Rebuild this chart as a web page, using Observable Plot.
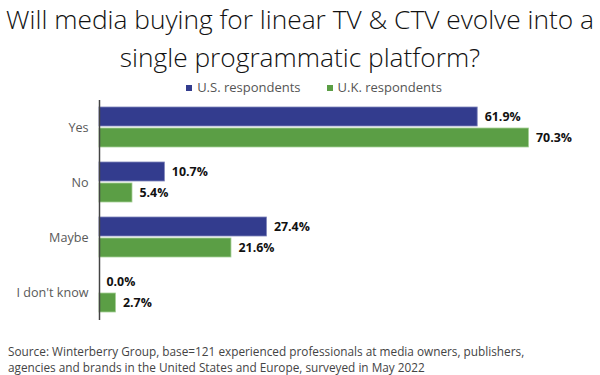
<!DOCTYPE html>
<html>
<head>
<meta charset="utf-8">
<script src="https://cdn.jsdelivr.net/npm/d3@7"></script>
<script src="https://cdn.jsdelivr.net/npm/@observablehq/plot@0.6"></script>
<style>
  body { margin: 0; background: #fff; font-family: "Open Sans", sans-serif; }
  #wrap { width: 600px; height: 375px; position: relative; overflow: hidden; }
  .title { text-align: center; font-size: 26.3px; line-height: 38px; color: #111; font-weight: 300; margin: 0; white-space: nowrap; }
  .legend { display: flex; justify-content: center; gap: 26px; font-size: 13px; line-height: 16px; color: #555; margin-top: 3px; height: 16px; padding-left: 28px; }
  .legend span.sw { display: inline-block; width: 6px; height: 6px; margin-right: 5px; vertical-align: 1px; }
  .caption { font-size: 11.8px; line-height: 16px; color: #444; margin-top: 18px; padding-left: 8px; }
  svg { display: block; }
</style>
</head>
<body>
<div id="wrap">
  <div class="title">Will media buying for linear TV &amp; CTV evolve into a<br>single programmatic platform?</div>
  <div class="legend" id="legend"></div>
  <div id="chart"></div>
  <div class="caption">Source: Winterberry Group, base=121 experienced professionals at media owners, publishers,<br>agencies and brands in the United States and Europe, surveyed in May 2022</div>
</div>
<script>
const categories = ["Yes", "No", "Maybe", "I don't know"];
const seriesNames = ["U.S. respondents", "U.K. respondents"];
const usValues = [61.9, 10.7, 27.4, 0.0];
const ukValues = [70.3, 5.4, 21.6, 2.7];
const colors = ["#333c8e", "#5b9e45"];

const usData = categories.map((c, i) => ({category: c, value: usValues[i]}));
const ukData = categories.map((c, i) => ({category: c, value: ukValues[i]}));

const legend = document.getElementById("legend");
seriesNames.forEach((s, i) => {
  const item = document.createElement("div");
  item.innerHTML = `<span class="sw" style="background:${colors[i]}"></span>${s}`;
  legend.appendChild(item);
});

const fmt = d => d.value.toFixed(1) + "%";

const chart = Plot.plot({
  width: 600,
  height: 230,
  marginTop: 5,
  marginBottom: 5,
  marginLeft: 99,
  marginRight: 0,
  style: {fontFamily: "Open Sans, sans-serif", fontSize: "12px", background: "#fff"},
  x: {domain: [0, 82], axis: null},
  y: {domain: categories, paddingInner: 0.264, paddingOuter: 0.107, label: null, tickSize: 0, tickPadding: 11},
  marks: [
    Plot.barX(usData, {x: "value", y: "category", fill: colors[0], stroke: "#7d83b9", strokeWidth: 0.8, insetBottom: 21}),
    Plot.barX(ukData, {x: "value", y: "category", fill: colors[1], stroke: "#a6cf96", strokeWidth: 0.8, insetTop: 21}),
    Plot.text(usData, {x: "value", y: "category", text: fmt, dy: -10.5, dx: 7, textAnchor: "start", fontWeight: "bold", fontSize: 12.4, fill: "#111"}),
    Plot.text(ukData, {x: "value", y: "category", text: fmt, dy: 10.5, dx: 7, textAnchor: "start", fontWeight: "bold", fontSize: 12.4, fill: "#111"}),
    Plot.ruleX([0], {stroke: "#444", strokeWidth: 1.5}),
    Plot.axisY({tickSize: 0, tickPadding: 11, fill: "#595959", fontSize: 12.6, label: null})
  ]
});
document.getElementById("chart").appendChild(chart);
</script>
</body>
</html>
